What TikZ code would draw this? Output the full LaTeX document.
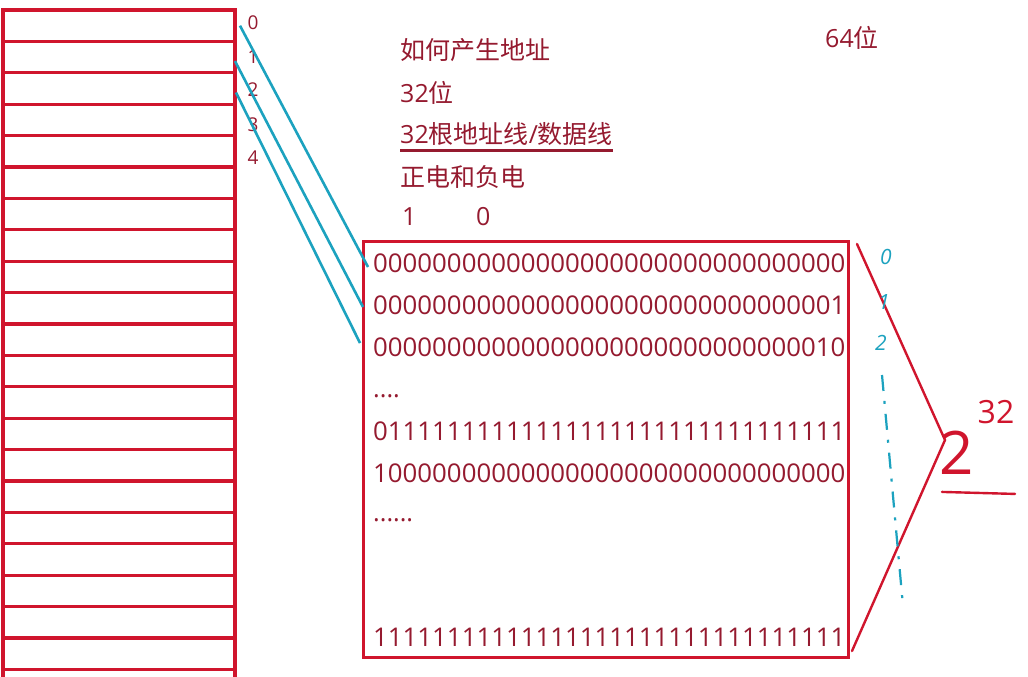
\documentclass[tikz,border=0pt]{standalone}
\usepackage{fontspec}
\setmainfont{Open Sans}
\newfontfamily\cjk{Noto Sans CJK SC}
\definecolor{wine}{HTML}{951A2F}
\definecolor{redline}{HTML}{D0152D}
\definecolor{wire}{HTML}{1CA2BF}
\begin{document}
\begin{tikzpicture}[x=1pt,y=-1pt,
  cell/.style={draw=redline,line width=3.2pt,minimum width=232pt,minimum height=31.4pt,inner sep=0pt,outer sep=0pt},
  txt/.style={text=wine,font=\fontsize{25}{30}\selectfont,inner sep=0pt,anchor=west},
  bin/.style={txt,font=\fontsize{25.8}{30}\selectfont},
  idx/.style={text=wine,font=\fontsize{19}{22}\selectfont,inner sep=0pt},
  countmark/.style={text=wire,font=\itshape\fontsize{21}{24}\selectfont,inner sep=0pt},
  buswire/.style={draw=wire,line width=2.6pt},
  pen/.style={draw=redline,line width=2.4pt,line cap=round}]
\useasboundingbox (0,0) rectangle (1028,677);
\clip (0,0) rectangle (1028,677);
\fill[white] (0,0) rectangle (1028,677);
% memory cells
\foreach \i in {0,...,21} \node[cell] (m\i) at (119,25.7+31.4*\i) {};
\foreach \i/\y in {0/23,1/57,2/90,3/125,4/158} \node[idx] (k\i) at (253,\y) {\i};
% notes
\node[txt] (q1) at (400,50) {\cjk 如何产生地址};
\node[txt] (q2) at (400,93) {32{\cjk 位}};
\node[txt] (q3) at (400,134) {32{\cjk 根地址线}/{\cjk 数据线}};
\draw[draw=wine,line width=2.6pt] ([yshift=-5pt]q3.south west) -- ([yshift=-5pt]q3.south east);
\node[txt] (q4) at (400,177) {\cjk 正电和负电};
\node[txt] (one) at (402,217) {1};\node[txt] (zero) at (476,217) {0};
\node[txt] (b64) at (825,38) {64{\cjk 位}};
% address table
\node[draw=redline,line width=3pt,minimum width=485pt,minimum height=416pt,inner sep=0pt] (box) at (605.5,449) {};
\node[bin] (r0) at (373,263) {00000000000000000000000000000000};
\node[bin] (r1) at (373,305) {00000000000000000000000000000001};
\node[bin] (r2) at (373,347) {00000000000000000000000000000010};
\node[txt] (d1) at (373,396) {....};
\node[bin] (r3) at (373,431) {01111111111111111111111111111111};
\node[bin] (r4) at (373,473) {10000000000000000000000000000000};
\node[txt] (d2) at (373,520) {......};
\node[bin] (r5) at (373,637) {11111111111111111111111111111111};
% bus wires
\draw[buswire] ([xshift=5pt]m0.east) -- ([xshift=-5pt,yshift=-4pt]r0.west);
\draw[buswire] ([yshift=-4pt]m1.east) -- ([xshift=-10pt,yshift=-2pt]r1.west);
\draw[buswire] ([xshift=1pt,yshift=-4pt]m2.east) -- ([xshift=-13pt,yshift=4pt]r2.west);
% 2^32 bracket
\coordinate (top) at (857,244);\coordinate (apex) at (945,440);\coordinate (bot) at (852,651);
\draw[pen] (top) -- (apex) -- (bot);
\node[text=redline,font=\fontsize{60}{60}\selectfont,inner sep=0pt] (two) at (957,453) {2};
\node[text=redline,font=\fontsize{32}{32}\selectfont,inner sep=0pt] (exp) at (996,412) {32};
\draw[pen] ([xshift=-15pt,yshift=-17pt]two.south) -- ([xshift=58pt,yshift=-19pt]two.south);
% count marks
\node[countmark] (c0) at (886,257) {0};\node[countmark] (c1) at (884,302) {1};\node[countmark] (c2) at (881,343) {2};
\coordinate (dtop) at (882,375);\coordinate (dbot) at (903,606);
\draw[draw=wire,line width=2.2pt,dash pattern=on 16pt off 10pt on 3pt off 10pt] (dtop) -- (dbot);
\end{tikzpicture}
\end{document}
